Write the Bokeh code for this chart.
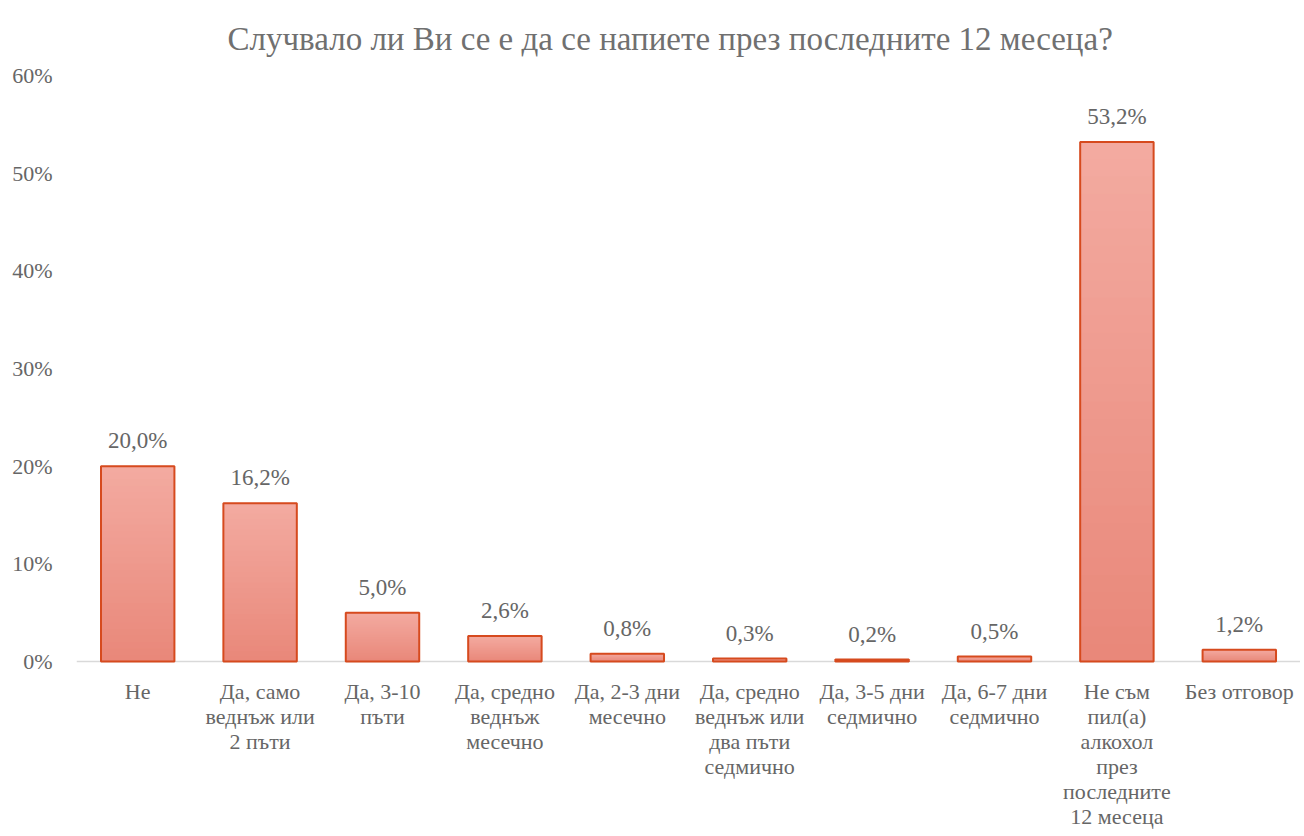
from bokeh.plotting import figure
from bokeh.models import ColumnDataSource, FactorRange, Range1d, Span, CustomJSTickFormatter
from bokeh.embed import file_html
from bokeh.resources import INLINE
from bokeh.core.properties import value

categories = [
    "Не",
    "Да, само\nведнъж или\n2 пъти",
    "Да, 3-10\nпъти",
    "Да, средно\nведнъж\nмесечно",
    "Да, 2-3 дни\nмесечно",
    "Да, средно\nведнъж или\nдва пъти\nседмично",
    "Да, 3-5 дни\nседмично",
    "Да, 6-7 дни\nседмично",
    "Не съм\nпил(а)\nалкохол\nпрез\nпоследните\n12 месеца",
    "Без отговор",
]
values = [20.0, 16.2, 5.0, 2.6, 0.8, 0.3, 0.2, 0.5, 53.2, 1.2]
labels = [f"{v:.1f}".replace(".", ",") + "%" for v in values]
y_ticks = [0, 10, 20, 30, 40, 50, 60]

FONT = "Liberation Serif"
GRAY = "#666666"
TOP = (243, 170, 160)
BOT = (233, 136, 122)
EDGE = "#D64A1E"

H = 830
PX_PER_UNIT = (661 - 75) / 60.0
y_min = -(H - 661) / PX_PER_UNIT

p = figure(
    x_range=FactorRange(*categories, range_padding=0),
    y_range=Range1d(y_min, 60),
    width=1300, height=H,
    output_backend="svg", toolbar_location=None,
    min_border_left=76, min_border_right=0, min_border_top=75, min_border_bottom=0,
    title="Случвало ли Ви се е да се напиете през последните 12 месеца?",
)
p.title.align = "left"
p.title.offset = 151
p.title.text_font = FONT
p.title.text_font_size = "33px"
p.title.text_font_style = "normal"
p.title.text_color = "#707070"
p.title.standoff = 37

p.add_layout(Span(location=0, dimension="width", line_color="#D9D9D9", line_width=1.5, level="underlay"))

# gradient-filled bars: overlapping layers from the base, shorter layers darker
N = 30
xs, tops, cols = [], [], []
for k in range(N, 0, -1):
    t = (k - 1) / (N - 1)
    r = round(BOT[0] + (TOP[0] - BOT[0]) * t)
    g = round(BOT[1] + (TOP[1] - BOT[1]) * t)
    b = round(BOT[2] + (TOP[2] - BOT[2]) * t)
    for c, v in zip(categories, values):
        xs.append(c)
        tops.append(v * k / N)
        cols.append(f"#{r:02x}{g:02x}{b:02x}")
p.vbar(x=xs, bottom=0, top=tops, width=0.6, fill_color=cols, line_color=None)

src = ColumnDataSource(dict(cat=categories, val=values, lab=labels))
p.vbar(x="cat", top="val", width=0.6, source=src, fill_color=None, line_color=EDGE, line_width=2)

p.text(x="cat", y="val", text="lab", source=src, text_align="center", text_baseline="bottom",
       y_offset=-13, text_font=value(FONT), text_font_size="23px", text_color=GRAY)

# category labels, one line per row, below the zero line
lx, ly, lt, loff = [], [], [], []
for c in categories:
    for i, line in enumerate(c.split("\n")):
        lx.append(c)
        ly.append(0)
        lt.append(line)
        loff.append(30 + 25 * i)
lsrc = ColumnDataSource(dict(x=lx, y=ly, t=lt, off=loff))
p.text(x="x", y="y", text="t", y_offset="off", source=lsrc, text_align="center",
       text_baseline="middle", text_font=value(FONT), text_font_size="22px", text_color=GRAY)

p.grid.visible = False
p.outline_line_color = None
p.xaxis.visible = False

p.yaxis.formatter = CustomJSTickFormatter(code="return tick.toFixed(0) + '%';")
p.yaxis.ticker = y_ticks
p.yaxis.axis_line_color = None
p.yaxis.major_tick_line_color = None
p.yaxis.minor_tick_line_color = None
p.yaxis.major_label_text_font = FONT
p.yaxis.major_label_text_font_size = "22px"
p.yaxis.major_label_text_color = GRAY
p.yaxis.major_label_standoff = 18

open("out.html", "w").write(file_html(p, INLINE))
